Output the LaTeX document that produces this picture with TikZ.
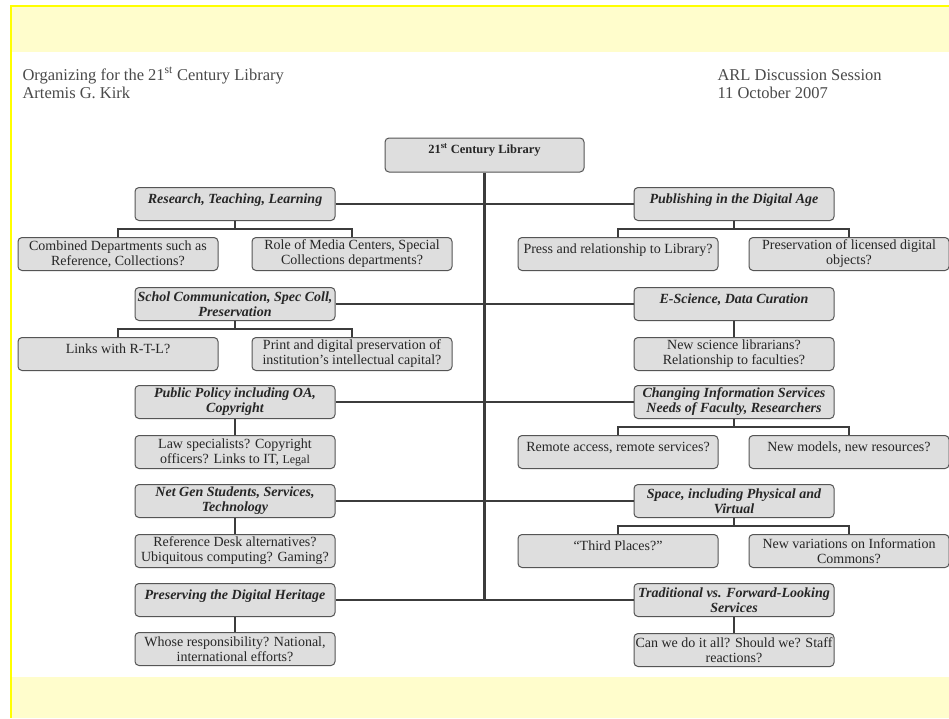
\documentclass[tikz,border=0pt]{standalone}
\usepackage{fontspec}
\setmainfont{Liberation Serif}
\usetikzlibrary{positioning}
\definecolor{bandyellow}{HTML}{FFFDCC}
\definecolor{lineyellow}{HTML}{FFFF00}
\definecolor{boxfill}{HTML}{DEDEDE}
\definecolor{boxline}{HTML}{555555}
\definecolor{inkgray}{HTML}{262626}
\definecolor{headgray}{HTML}{4A4A4A}
\newcommand{\boxfont}{\fontsize{14}{15}\selectfont}
\newcommand{\smalltag}[1]{{\fontsize{12}{15}\selectfont #1}}
\tikzset{
  box/.style={draw=boxline, fill=boxfill, rounded corners=4pt, line width=1pt,
    minimum width=200pt, minimum height=33pt, inner xsep=1pt, inner ysep=1pt,
    align=center, font=\boxfont, text=inkgray},
  topic/.style={box, font=\boxfont\bfseries\itshape},
  oneline/.style={text height=10pt, text depth=12pt},
  link/.style={draw=inkgray!90, line width=2.4pt},
  header/.style={anchor=base west, align=left, font=\fontsize{16.5}{18}\selectfont, text=headgray}
}
\begin{document}
\begin{tikzpicture}[x=1pt, y=-1pt, node distance=16pt]
  \useasboundingbox (0,0) rectangle (949,718);
  % page
  \fill[white] (0,0) rectangle (949,718);
  \fill[bandyellow] (11,6.5) rectangle (949,52);
  \fill[bandyellow] (11,677) rectangle (949,718);
  \draw[lineyellow, line width=1.5pt] (10,6) -- (949,6);
  \draw[lineyellow, line width=2pt] (10.5,5.25) -- (10.5,718);

  \node[header] (title) at (19,98) {Organizing for the 21\textsuperscript{st} Century Library\\Artemis G. Kirk};
  \node[header] (session) at (714,98) {ARL Discussion Session\\11 October 2007};

  \node[box, font=\fontsize{12.5}{14}\selectfont\bfseries, minimum width=199pt, minimum height=34pt,
        text height=9pt, text depth=13pt] (lib) at (484.5,155) {21\textsuperscript{st} Century Library};

  % left column
  \node[topic, oneline] (rtl) at (235,204) {Research, Teaching, Learning};
  \node[box, below=of rtl, xshift=-117pt] (comb) {Combined Departments such as\\Reference, Collections?};
  \node[box, below=of rtl, xshift=117pt] (media) {Role of Media Centers, Special\\Collections departments?};

  \node[topic] (schol) at (235,304) {Schol Communication, Spec Coll,\\Preservation};
  \node[box, oneline, below=of schol, xshift=-117pt] (rtllinks) {Links with R-T-L?};
  \node[box, below=of schol, xshift=117pt] (printpres) {Print and digital preservation of\\institution's intellectual capital?};

  \node[topic] (policy) at (235,402) {Public Policy including OA,\\Copyright};
  \node[box, below=of policy] (law) {Law specialists? Copyright\\officers? Links to IT, \smalltag{Legal}};

  \node[topic] (netgen) at (235,501) {Net Gen Students, Services,\\Technology};
  \node[box, below=of netgen] (refdesk) {Reference Desk alternatives?\\Ubiquitous computing? Gaming?};

  \node[topic, oneline] (heritage) at (235,600) {Preserving the Digital Heritage};
  \node[box, below=15pt of heritage] (whose) {Whose responsibility? National,\\international efforts?};

  % right column
  \node[topic, oneline] (pub) at (734,204) {Publishing in the Digital Age};
  \node[box, oneline, below=of pub, xshift=-116pt] (press) {Press and relationship to Library?};
  \node[box, below=of pub, xshift=115pt] (licensed) {Preservation of licensed digital\\objects?};

  \node[topic, oneline] (esci) at (734,304) {E-Science, Data Curation};
  \node[box, below=of esci] (scilib) {New science librarians?\\Relationship to faculties?};

  \node[topic] (infoserv) at (734,402) {Changing Information Services\\Needs of Faculty, Researchers};
  \node[box, oneline, below=of infoserv, xshift=-116pt] (remote) {Remote access, remote services?};
  \node[box, oneline, below=of infoserv, xshift=115pt] (models) {New models, new resources?};

  \node[topic] (space) at (734,501) {Space, including Physical and\\Virtual};
  \node[box, oneline, below=of space, xshift=-116pt] (third) {``Third Places?''};
  \node[box, below=of space, xshift=115pt] (commons) {New variations on Information\\Commons?};

  \node[topic] (trad) at (734,600) {Traditional vs. Forward-Looking\\Services};
  \node[box, below=of trad] (staff) {Can we do it all? Should we? Staff\\reactions?};

  % trunk and rows
  \draw[link] (lib.south) -- (lib.south |- heritage.east);
  \draw[link] (rtl.east) -- (pub.west);
  \draw[link] (schol.east) -- (esci.west);
  \draw[link] (policy.east) -- (infoserv.west);
  \draw[link] (netgen.east) -- (space.west);
  \draw[link] (heritage.east) -- (trad.west);

  % branches
  \draw[link] (rtl.south) -- ++(0,-8pt) -| (comb.north);
  \draw[link] (rtl.south) -- ++(0,-8pt) -| (media.north);
  \draw[link] (schol.south) -- ++(0,-8pt) -| (rtllinks.north);
  \draw[link] (schol.south) -- ++(0,-8pt) -| (printpres.north);
  \draw[link] (policy.south) -- (law.north);
  \draw[link] (netgen.south) -- (refdesk.north);
  \draw[link] (heritage.south) -- (whose.north);
  \draw[link] (pub.south) -- ++(0,-8pt) -| (press.north);
  \draw[link] (pub.south) -- ++(0,-8pt) -| (licensed.north);
  \draw[link] (esci.south) -- (scilib.north);
  \draw[link] (infoserv.south) -- ++(0,-8pt) -| (remote.north);
  \draw[link] (infoserv.south) -- ++(0,-8pt) -| (models.north);
  \draw[link] (space.south) -- ++(0,-8pt) -| (third.north);
  \draw[link] (space.south) -- ++(0,-8pt) -| (commons.north);
  \draw[link] (trad.south) -- (staff.north);
\end{tikzpicture}
\end{document}
